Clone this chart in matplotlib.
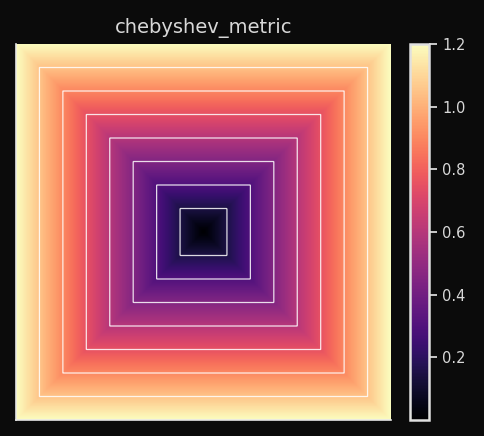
import numpy as np
import matplotlib
matplotlib.use("Agg")
import matplotlib.pyplot as plt

# grid extent and contour levels
extent = [-1.2, 1.2]
n_points = 400
levels = [0.15, 0.30, 0.45, 0.60, 0.75, 0.90, 1.05]
cbar_ticks = [0.2, 0.4, 0.6, 0.8, 1.0, 1.2]
title = "chebyshev_metric"

bg = "#0b0b0b"
fg = "#d8d8d8"

xs = np.linspace(extent[0], extent[1], n_points)
X, Y = np.meshgrid(xs, xs)
Z = np.maximum(np.abs(X), np.abs(Y))

fig = plt.figure(figsize=(4.84, 4.36), dpi=100, facecolor=bg)
ax = fig.add_axes([16 / 484, 16 / 436, 375 / 484, 376 / 436])
cax = fig.add_axes([410 / 484, 16 / 436, 19 / 484, 376 / 436])
ax.set_facecolor(bg)

im = ax.imshow(Z, cmap="magma", vmin=0, vmax=1.2, origin="lower",
               extent=[extent[0], extent[1], extent[0], extent[1]],
               aspect="auto", interpolation="bilinear")
ax.contour(X, Y, Z, levels=levels, colors="white", linewidths=0.9, alpha=0.85)

ax.set_xticks([])
ax.set_yticks([])
for side in ["top", "right"]:
    ax.spines[side].set_visible(False)
for side in ["left", "bottom"]:
    ax.spines[side].set_color("#e8e8e8")
    ax.spines[side].set_linewidth(1.2)
ax.set_title(title, color=fg, fontsize=14, pad=8)

cb = fig.colorbar(im, cax=cax, ticks=cbar_ticks)
cb.outline.set_edgecolor("#e0e0e0")
cb.outline.set_linewidth(1.8)
cax.tick_params(colors=fg, labelsize=10.5, length=6, width=1.3)
for t in cax.get_yticklabels():
    t.set_color(fg)

fig.savefig("out.png", dpi=100, facecolor=bg)
